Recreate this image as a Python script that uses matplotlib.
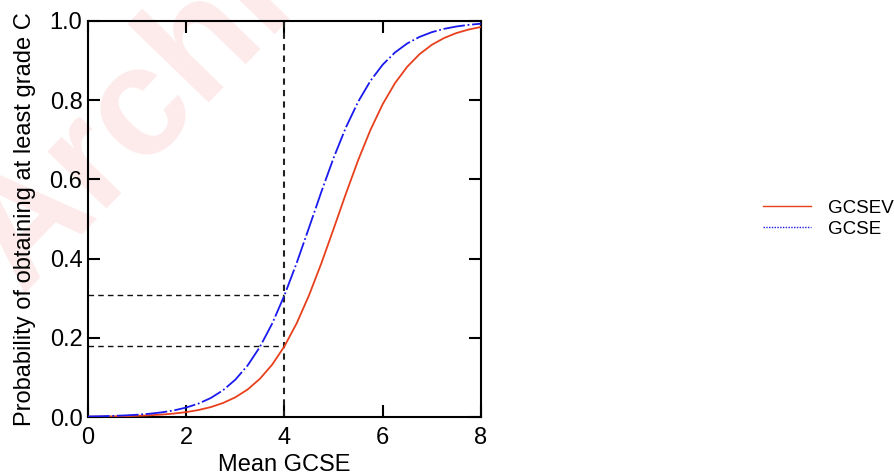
import matplotlib
matplotlib.use("Agg")
import matplotlib.pyplot as plt
from matplotlib.lines import Line2D

plt.rcParams["font.family"] = ["Liberation Sans", "DejaVu Sans"]

# Mean GCSE score grid
mean_gcse = [0.0, 0.25, 0.5, 0.75, 1.0, 1.25, 1.5, 1.75, 2.0, 2.25, 2.5, 2.75,
             3.0, 3.25, 3.5, 3.75, 4.0, 4.25, 4.5, 4.75, 5.0, 5.25, 5.5, 5.75,
             6.0, 6.25, 6.5, 6.75, 7.0, 7.25, 7.5, 7.75, 8.0]

# Probability of at least grade C, vocational GCSE
p_gcsev = [0.0007, 0.0010, 0.0015, 0.0021, 0.0030, 0.0043, 0.0061, 0.0087,
           0.0124, 0.0177, 0.0250, 0.0354, 0.0498, 0.0695, 0.0965, 0.1323,
           0.1788, 0.2371, 0.3074, 0.3879, 0.4751, 0.5638, 0.6486, 0.7249,
           0.7901, 0.8431, 0.8847, 0.9163, 0.9399, 0.9571, 0.9696, 0.9785,
           0.9849]

# Probability of at least grade C, GCSE
p_gcse = [0.0013, 0.0019, 0.0028, 0.0040, 0.0057, 0.0082, 0.0117, 0.0167,
          0.0239, 0.0339, 0.0480, 0.0676, 0.0943, 0.1302, 0.1770, 0.2360,
          0.3075, 0.3895, 0.4783, 0.5684, 0.6543, 0.7311, 0.7962, 0.8488,
          0.8898, 0.9206, 0.9434, 0.9599, 0.9718, 0.9802, 0.9861, 0.9903,
          0.9932]

# Reference point read-off at mean GCSE = 4
ref_x = 4.0
ref_gcse = 0.3075
ref_gcsev = 0.1788

xticks = [0, 2, 4, 6, 8]
yticks = [0.0, 0.2, 0.4, 0.6, 0.8, 1.0]
series_labels = ["GCSEV", "GCSE"]

fig = plt.figure(figsize=(8.95, 4.75), dpi=100)

# faint watermark behind everything
fig.text(0.023, 0.381, "Archive", rotation=46, fontsize=112, fontweight="bold",
         color="#fdebeb", ha="left", va="baseline", zorder=-1,
         rotation_mode="anchor")

ax = fig.add_axes([0.0983, 0.1221, 0.4391, 0.8337])
ax.set_facecolor("none")

red = "#e8401c"
blue = "#1a1aee"

ax.plot(mean_gcse, p_gcsev, color=red, lw=1.3, zorder=3)
ax.plot(mean_gcse, p_gcse, color=blue, lw=1.3, zorder=3,
        dashes=(12, 1.5, 1, 1.5))

dash = (4, 3)
ax.axvline(ref_x, color="#222222", lw=1.5, dashes=(3, 2.5), zorder=2)
ax.plot([0, ref_x], [ref_gcse, ref_gcse], color="#111111", lw=1.0,
        dashes=dash, zorder=2)
ax.plot([0, ref_x], [ref_gcsev, ref_gcsev], color="#111111", lw=1.0,
        dashes=dash, zorder=2)

ax.set_xlim(0, 8)
ax.set_ylim(0, 1)
ax.set_xticks(xticks)
ax.set_yticks(yticks)
ax.set_xticklabels([str(t) for t in xticks])
ax.set_yticklabels([f"{t:.1f}" for t in yticks])
ax.tick_params(direction="in", length=8.5, width=1.5, labelsize=17,
               top=True, right=True, colors="black", pad=4)
ax.tick_params(axis="x", pad=7.5)
for s in ax.spines.values():
    s.set_linewidth(1.5)

ax.set_xlabel("Mean GCSE", fontsize=17, labelpad=3.5)
ax.set_ylabel("Probability of obtaining at least grade C", fontsize=17,
              labelpad=10)

handles = [Line2D([], [], color=red, lw=1.0),
           Line2D([], [], color=blue, lw=1.0, ls=(0, (1, 1)))]
fig.legend(handles, series_labels, loc="center left",
           bbox_to_anchor=(0.8525, 0.54), frameon=False, fontsize=13.5,
           borderpad=0, borderaxespad=0,
           handlelength=2.55, handletextpad=0.9, labelspacing=0.2)

fig.savefig("out.png", dpi=100)
